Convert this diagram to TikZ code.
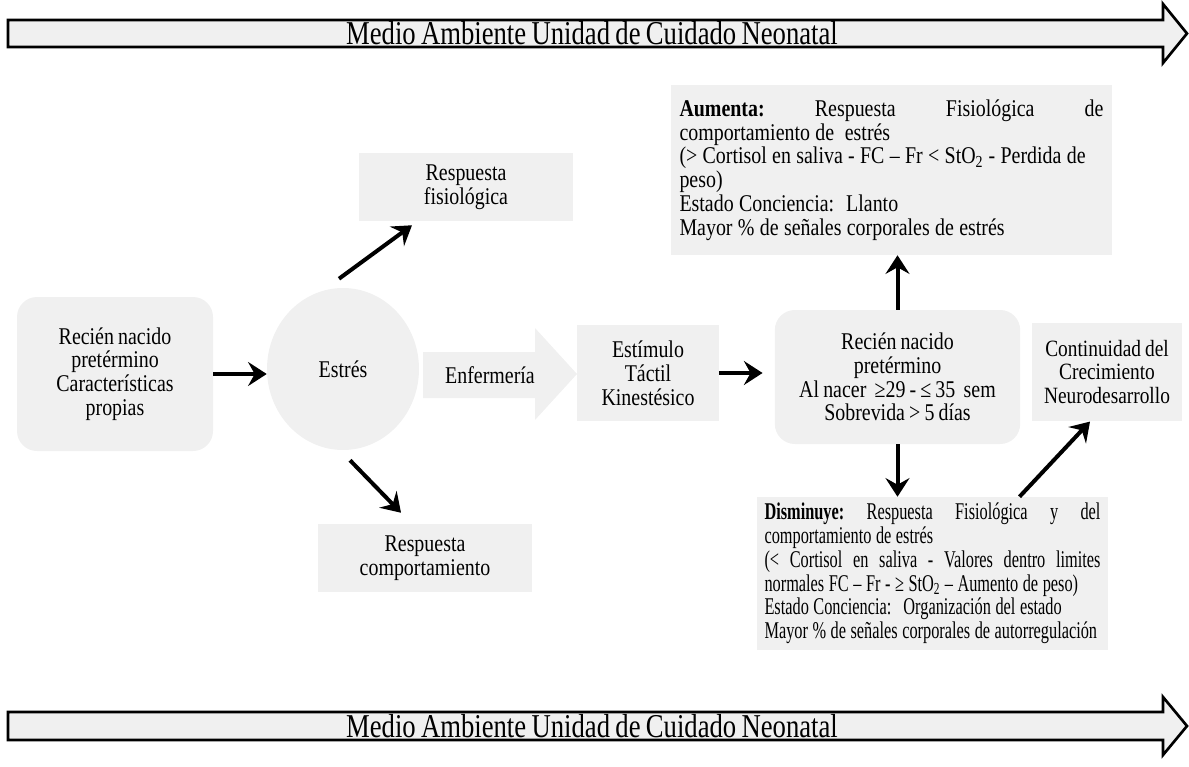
\documentclass[tikz,border=0pt]{standalone}
\usepackage{fontspec}
\setmainfont[FakeStretch=0.83,WordSpace=0.83]{Liberation Serif}
\newfontfamily\bandfont[FakeStretch=0.8,WordSpace=0.8]{Liberation Serif}
\newfontfamily\upfont[FakeStretch=0.83]{Liberation Serif}
\newfontfamily\narrowfont[FakeStretch=0.68]{Liberation Serif}
\newcommand\upspace{\spaceskip=4pt plus 1pt\relax}
\newcommand\downspace{\spaceskip=3.4pt plus 1pt\relax}
\usepackage{xcolor}
\usepackage{tikz}
\usetikzlibrary{shapes.geometric, arrows.meta, positioning}
\definecolor{boxgray}{RGB}{240,240,240}

\begin{document}
\begin{tikzpicture}[x=0.75pt,y=-0.75pt,
  font=\fontsize{18}{17.85}\selectfont,
  box/.style={fill=boxgray,align=center,inner sep=0pt},
  roundbox/.style={box,rounded corners=15pt},
  textbox/.style={fill=boxgray,align=left,inner ysep=0pt},
  flow/.style={-{Stealth[length=14pt,width=18pt,inset=5pt]},line width=3pt},
  band/.style={draw=black,line width=2pt,fill=boxgray},
  bandtext/.style={anchor=base,font=\bandfont\fontsize{25}{25}\selectfont}
]
  \useasboundingbox (0,0) rectangle (1189,767);

  % environment bands
  \draw[band] (8,20) -- (1163,20) -- (1163,4) -- (1187,33.5) -- (1163,63) -- (1163,47) -- (8,47) -- cycle;
  \node[bandtext] (envtop) at (592,45) {Medio Ambiente Unidad de Cuidado Neonatal};
  \draw[band] (8,712) -- (1163,712) -- (1163,697) -- (1187,726) -- (1163,755) -- (1163,740) -- (8,740) -- cycle;
  \node[bandtext] (envbot) at (592,737) {Medio Ambiente Unidad de Cuidado Neonatal};

  % left part
  \node[roundbox,minimum width=147pt,minimum height=115.5pt] (rn) at (115,374)
       {Recién nacido\\pretérmino\\Características\\propias};
  \node[box,ellipse,minimum width=114pt,minimum height=121.5pt] (estres) at (343,369) {Estrés};
  \node[box,minimum width=160pt,minimum height=51pt] (fisio) at (466,187) {Respuesta\\fisiológica};
  \node[box,minimum width=161pt,minimum height=51pt] (comport) at (425,558) {Respuesta\\comportamiento};

  % nursing arrow
  \fill[boxgray] (423,352) -- (535,352) -- (535,328) -- (577,374) -- (535,420) -- (535,398) -- (423,398) -- cycle;
  \node (enf) at (490,375) {Enfermería};

  % right part
  \node[box,minimum width=106pt,minimum height=72pt] (estim) at (648,373) {Estímulo\\Táctil\\Kinestésico};
  \node[roundbox,minimum width=184pt,minimum height=100.5pt] (rnp) at (897.5,377)
       {Recién nacido\\pretérmino\\Al nacer~~≥29 - ≤~35~~sem\\Sobrevida > 5 días};
  \node[box,font=\fontsize{17.5}{17.3}\selectfont,minimum width=112pt,minimum height=74pt] (cont) at (1107,372)
       {Continuidad del\\Crecimiento\\Neurodesarrollo};
  \node[textbox,font=\upfont\fontsize{18}{17.85}\selectfont,
        text width=318pt,inner xsep=6.4pt,minimum height=127.5pt] (aum) at (891.5,170)
       {\upspace\textbf{Aumenta:}\hfill Respuesta\hfill Fisiológica\hfill de\\
        comportamiento de~ estrés\\
        (> Cortisol en saliva - FC – Fr < StO\textsubscript{2} - Perdida de\\
        peso)\\
        Estado Conciencia: Llanto\\
        Mayor \% de señales corporales de estrés\par\vspace*{7pt}};
  \node[textbox,font=\narrowfont\fontsize{18}{17.85}\selectfont,
        text width=252pt,inner xsep=5.6pt,minimum height=114.75pt] (dism) at (932.5,573.5)
       {\downspace\textbf{Disminuye:}\hfill Respuesta\hfill Fisiológica\hfill y\hfill del\\
        comportamiento de estrés\\
        (<\hfill Cortisol\hfill en\hfill saliva\hfill -\hfill Valores\hfill dentro\hfill limites\\
        normales FC – Fr - ≥ StO\textsubscript{2} – Aumento de peso)\\
        Estado Conciencia: Organización del estado\\
        Mayor \% de señales corporales de autorregulación};

  % connectors
  \draw[flow] (rn.east) -- (rn.east -| estres.west);
  \draw[flow] ([shift={(-4,-9)}]estres.north) -- ([shift={(-54,4)}]fisio.south);
  \draw[flow] ([shift={(7,10)}]estres.south) -- ([shift={(-24,-11)}]comport.north);
  \draw[flow] (estim.east) -- ([shift={(-12,0)}]estim.east -| rnp.west);
  \draw[flow] (rnp.north) -- (rnp.north |- aum.south);
  \draw[flow] (rnp.south) -- (rnp.south |- dism.north);
  \draw[flow] ([shift={(87,0)}]dism.north) -- ([shift={(-17,0)}]cont.south);
\end{tikzpicture}
\end{document}
